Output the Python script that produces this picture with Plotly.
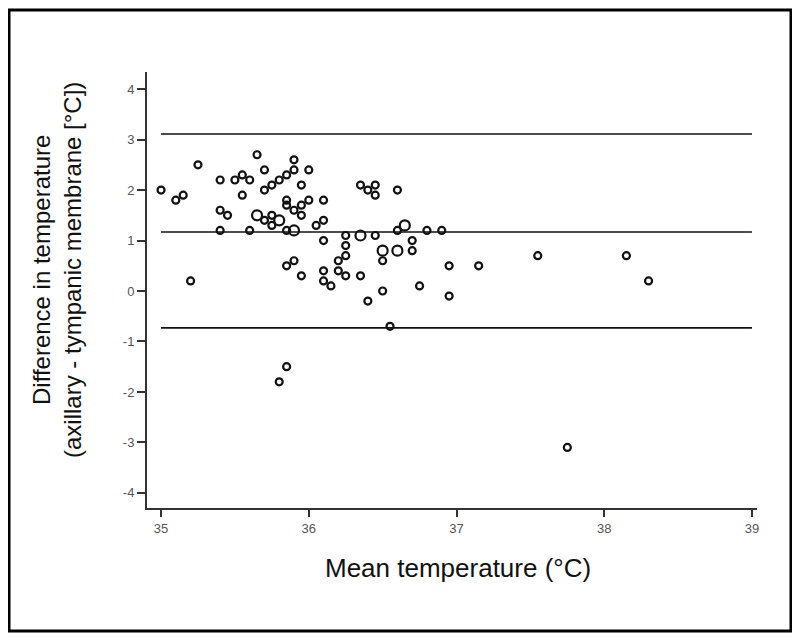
import plotly.graph_objects as go

# Data
mean_temp = [35.0, 35.1, 35.15, 35.25, 35.2, 35.4, 35.4, 35.45, 35.4, 35.5,
             35.55, 35.6, 35.55, 35.6, 35.65, 35.7, 35.7, 35.75, 35.8, 35.85,
             35.9, 35.9, 35.7, 35.75, 35.75, 35.85, 35.85, 35.85, 35.9, 35.95,
             35.95, 35.95, 36.0, 36.0, 36.05, 36.1, 36.1, 36.1, 35.85, 35.9,
             35.95, 35.85, 35.8, 36.1, 36.1, 36.15, 36.2, 36.2, 36.25, 36.25,
             36.25, 36.25, 36.35, 36.4, 36.4, 36.35, 36.45, 36.45, 36.45, 36.5,
             36.5, 36.55, 36.6, 36.6, 36.7, 36.7, 36.75, 36.8, 36.9, 36.95,
             36.95, 37.15, 37.55, 37.75, 38.15, 38.3]
diff_temp = [2.0, 1.8, 1.9, 2.5, 0.2, 2.2, 1.6, 1.5, 1.2, 2.2,
             2.3, 2.2, 1.9, 1.2, 2.7, 2.4, 2.0, 2.1, 2.2, 2.3,
             2.6, 2.4, 1.4, 1.5, 1.3, 1.8, 1.7, 1.2, 1.6, 2.1,
             1.5, 1.7, 2.4, 1.8, 1.3, 1.8, 1.4, 1.0, 0.5, 0.6,
             0.3, -1.5, -1.8, 0.4, 0.2, 0.1, 0.4, 0.6, 1.1, 0.9,
             0.7, 0.3, 2.1, 2.0, -0.2, 0.3, 2.1, 1.9, 1.1, 0.6,
             0.0, -0.7, 2.0, 1.2, 1.0, 0.8, 0.1, 1.2, 1.2, 0.5,
             -0.1, 0.5, 0.7, -3.1, 0.7, 0.2]

# Larger markers (overlapping / repeated observations)
big_temp = [35.65, 35.8, 35.9, 36.35, 36.5, 36.6, 36.65]
big_diff = [1.5, 1.4, 1.2, 1.1, 0.8, 0.8, 1.3]

# Bland-Altman lines: upper limit, mean, lower limit
ref_lines = [3.11, 1.17, -0.73]
line_x = [35, 39]

x_ticks = [35, 36, 37, 38, 39]
y_ticks = [-4, -3, -2, -1, 0, 1, 2, 3, 4]
y_tick_labels = ["-4", "-3", "-2", "-1", "0", "1", "2", "3", "4"]

W, H = 792, 631
L, T, PW, PH = 139, 64, 610, 436


def px(x):
    return (x - L) / PW


def py(y):
    return (T + PH - y) / PH


fig = go.Figure()
fig.add_trace(go.Scatter(
    x=mean_temp, y=diff_temp, mode="markers",
    marker=dict(symbol="circle-open", size=7, color="#111",
                line=dict(width=2.2, color="#111")),
    showlegend=False))
fig.add_trace(go.Scatter(
    x=big_temp, y=big_diff, mode="markers",
    marker=dict(symbol="circle-open", size=10, color="#111",
                line=dict(width=2.2, color="#111")),
    showlegend=False))

for v in ref_lines:
    fig.add_shape(type="line", xref="x", yref="y",
                  x0=line_x[0], x1=line_x[1], y0=v, y1=v,
                  line=dict(color="#111", width=1.6))

# Outer frame
fig.add_shape(type="rect", xref="paper", yref="paper",
              x0=px(1), x1=px(783), y0=py(623), y1=py(2),
              line=dict(color="black", width=3))

fig.add_annotation(
    text="Difference in temperature<br>(axillary - tympanic membrane [°C])",
    xref="paper", yref="paper", x=px(49), y=py(262),
    xanchor="center", yanchor="middle",
    textangle=-90, showarrow=False,
    font=dict(family="Liberation Sans, Arial", size=24, color="#111"))
fig.add_annotation(
    text="Mean temperature (°C)",
    xref="paper", yref="paper", x=px(450), y=py(560),
    xanchor="center", yanchor="middle",
    showarrow=False,
    font=dict(family="Liberation Sans, Arial", size=26, color="#111"))

fig.update_layout(
    width=W, height=H,
    margin=dict(l=L, r=W - L - PW, t=T, b=H - T - PH),
    paper_bgcolor="white", plot_bgcolor="white",
    font=dict(family="Liberation Sans, Arial", size=13, color="#555"),
    xaxis=dict(range=[34.905, 39.034], tickvals=x_ticks,
               ticks="outside", ticklen=7, tickwidth=1.5, tickcolor="#333",
               showline=True, linecolor="#333", linewidth=2,
               showgrid=False, zeroline=False,
               tickfont=dict(size=13, color="#555")),
    yaxis=dict(range=[-4.30, 4.34], tickvals=y_ticks, ticktext=y_tick_labels,
               ticks="outside", ticklen=8, tickwidth=1.5, tickcolor="#333",
               showline=True, linecolor="#333", linewidth=2,
               showgrid=False, zeroline=False,
               tickfont=dict(size=13, color="#555")),
)

fig.write_html("out.html")
